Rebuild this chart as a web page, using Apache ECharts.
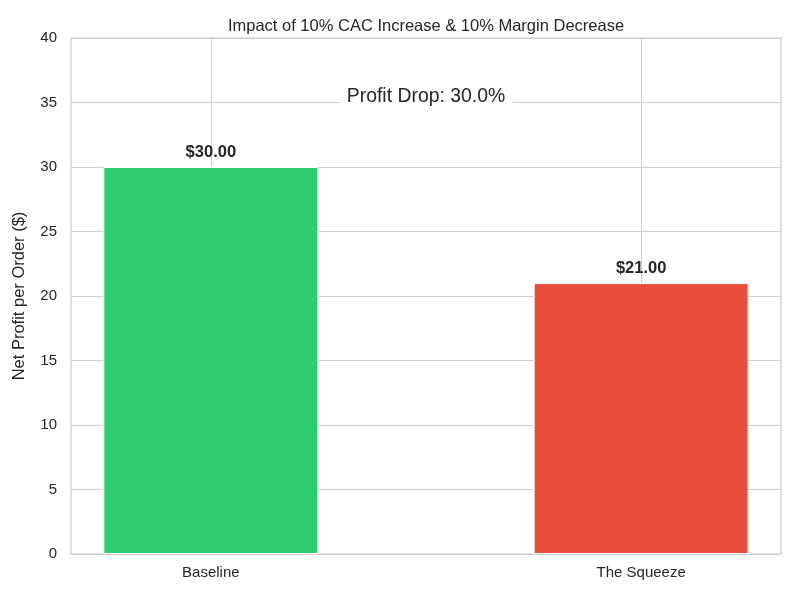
<!DOCTYPE html>
<html>
<head>
<meta charset="utf-8">
<script src="https://cdn.jsdelivr.net/npm/echarts@6/dist/echarts.min.js"></script>
<style>
  html, body { margin: 0; padding: 0; background: #fff; }
  #chart { width: 800px; height: 600px; }
</style>
</head>
<body>
<div id="chart"></div>
<script>
var categories = ['Baseline', 'The Squeeze'];
var profits = [30.00, 21.00];
var barColors = ['#2ecc71', '#e74c3c'];
var yTicks = [0, 5, 10, 15, 20, 25, 30, 35, 40];
var dropText = 'Profit Drop: 30.0%';

var FONT = '"Liberation Sans", Arial, sans-serif';
var chart = echarts.init(document.getElementById('chart'));

// bars sit at x = 0, 1 on a value axis so the spacing matches the matplotlib layout
var barData = profits.map(function (v, i) {
    return { value: [i, v], itemStyle: { color: barColors[i] } };
});

var option = {
    backgroundColor: '#ffffff',
    animation: false,
    textStyle: { fontFamily: FONT },
    title: {
        text: 'Impact of 10% CAC Increase & 10% Margin Decrease',
        left: 421, top: 13, textAlign: 'center',
        textStyle: { fontSize: 16.5, fontWeight: 'normal', color: '#262626', fontFamily: FONT }
    },
    grid: { left: 71, right: 19, top: 38, bottom: 46, show: true, borderColor: '#cccccc', borderWidth: 1.25 },
    xAxis: {
        type: 'value', min: -0.325, max: 1.325,
        axisLine: { show: false },
        axisTick: { show: false, customValues: [0, 1] },
        axisLabel: {
            customValues: [0, 1], margin: 11,
            fontSize: 15, color: '#262626', fontFamily: FONT,
            formatter: function (v) { return categories[Math.round(v)]; }
        },
        splitLine: { show: true, lineStyle: { color: '#cccccc', width: 1 } }
    },
    yAxis: {
        type: 'value', min: yTicks[0], max: yTicks[yTicks.length - 1], interval: 5,
        name: 'Net Profit per Order ($)', nameLocation: 'middle', nameGap: 43,
        nameTextStyle: { fontSize: 16.5, color: '#262626', fontFamily: FONT },
        axisLine: { show: false }, axisTick: { show: false },
        axisLabel: { margin: 14, fontSize: 15, color: '#262626', fontFamily: FONT },
        splitLine: { show: true, lineStyle: { color: '#cccccc', width: 1 } }
    },
    series: [{
        type: 'bar',
        data: barData,
        barWidth: 215,
        itemStyle: { borderColor: '#ffffff', borderWidth: 1 },
        label: {
            show: true, position: 'top', distance: 6,
            fontSize: 16.5, fontWeight: 'bold', color: '#262626', fontFamily: FONT,
            formatter: function (p) { return '$' + p.value[1].toFixed(2); }
        }
    }],
    graphic: [{
        type: 'text', x: 426, y: 97,
        style: {
            text: dropText, align: 'center', verticalAlign: 'middle',
            font: '19.4px ' + FONT, fill: '#262626',
            backgroundColor: '#ffffff', padding: [3, 7, 3, 7]
        },
        z: 10
    }]
};

chart.setOption(option);
</script>
</body>
</html>
